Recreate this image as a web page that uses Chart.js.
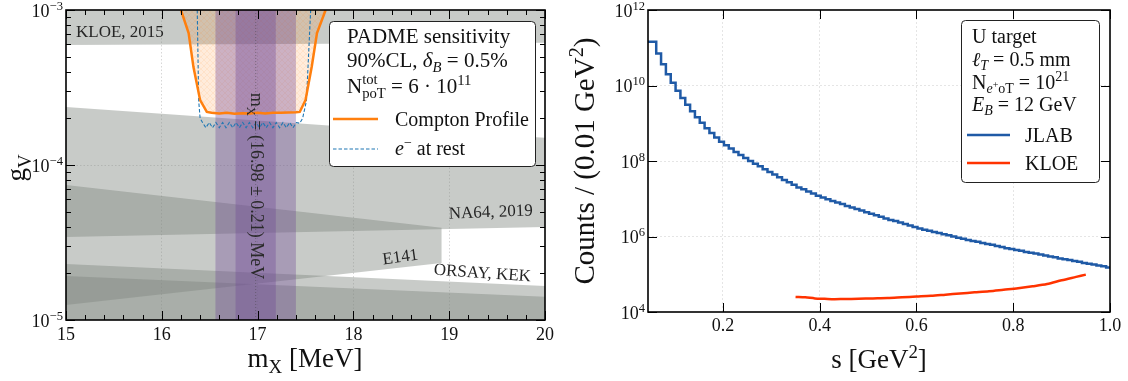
<!DOCTYPE html>
<html><head><meta charset="utf-8">
<script src="https://cdn.jsdelivr.net/npm/chart.js@4.4.1/dist/chart.umd.min.js"></script>
<style>
html,body{margin:0;padding:0;background:#fff;}
#wrap{position:relative;width:1128px;height:381px;overflow:hidden;}
#cl{position:absolute;left:0;top:0;}
#cr{position:absolute;left:560px;top:0;}
</style></head><body>
<div id="wrap"><canvas id="cl" width="560" height="381"></canvas><canvas id="cr" width="568" height="381"></canvas></div>
<script>
/* left panel: g_V vs m_X exclusion plot, right panel: counts vs s */

// ---- left: excluded regions (mX [MeV], gV)
const kloeX=[15,20,20,15,15];
const kloeG=[1e-3,1e-3,6.15e-4,5.95e-4,1e-3];
const na64X=[15,17.74,20,20,15,15];
const na64G=[2.37e-4,1.8e-4,1.5e-4,3.98e-5,3.43e-5,2.37e-4];
const e141X=[15,18.92,18.92,15,15];
const e141G=[7.43e-5,3.93e-5,2.33e-5,1.25e-5,7.43e-5];
const orsayX=[15,20,20,15,15];
const orsayG=[2.3e-5,1.66e-5,1e-5,1e-5,2.3e-5];
const kekX=[15,20,20,15,15];
const kekG=[1.92e-5,1.41e-5,1e-5,1e-5,1.92e-5];

// ---- PADME sensitivity curves
const comptonX=[16.20,16.28,16.33,16.40,16.47,16.52,16.60,16.68,16.76,16.84,16.92,17.00,17.08,17.16,17.24,17.32,17.40,17.44,17.50,17.565,17.62,17.71];
const comptonG=[1e-3,7.1e-4,4.3e-4,2.62e-4,2.2e-4,2.17e-4,2.15e-4,2.17e-4,2.14e-4,2.16e-4,2.15e-4,2.17e-4,2.15e-4,2.17e-4,2.17e-4,2.18e-4,2.19e-4,2.2e-4,2.62e-4,4.3e-4,7.1e-4,1e-3];
const eRestX=[16.37,16.385,16.40,16.43,16.46,16.495,16.53,16.565,16.60,16.635,16.67,16.705,16.74,16.775,16.81,16.845,16.88,16.915,16.95,16.985,17.02,17.055,17.09,17.125,17.16,17.195,17.23,17.265,17.30,17.335,17.37,17.405,17.44,17.47,17.51,17.554];
const eRestG=[1e-3,2.6e-4,2.0e-4,1.86e-4,1.74e-4,1.88e-4,1.74e-4,1.88e-4,1.74e-4,1.88e-4,1.74e-4,1.88e-4,1.74e-4,1.88e-4,1.74e-4,1.88e-4,1.74e-4,1.88e-4,1.74e-4,1.88e-4,1.74e-4,1.88e-4,1.74e-4,1.88e-4,1.74e-4,1.88e-4,1.74e-4,1.88e-4,1.74e-4,1.88e-4,1.74e-4,1.88e-4,1.86e-4,2.0e-4,2.6e-4,1e-3];

// ---- X17 mass band: 16.98 +- 0.21 (inner), +- 0.42 (outer)
const mX=16.98;
const bandOuterX=[16.56,17.40,17.40,16.56,16.56];
const bandInnerX=[16.77,17.19,17.19,16.77,16.77];
const bandG=[1e-3,1e-3,1e-5,1e-5,1e-3];

// ---- left axes
const lxMajor=[15,16,17,18,19,20];
const lxLabels=['15','16','17','18','19','20'];
const lyMajor=[1e-5,1e-4,1e-3];
const lyExp=['−5','−4','−3'];

// ---- right: JLAB histogram (bin width 0.01 GeV^2), log10(counts)
const sMin=0.045, jlabFirstEdge=0.062, jlabBinW=0.01;
const jlabLog=[11.16,10.85,10.56,10.30,10.07,9.86,9.67,9.49,9.32,9.16,9.01,8.87,8.74,8.62,8.51,
  8.42,8.33,8.24,8.16,8.08, 8.00,7.93,7.86,7.78,7.71, 7.64,7.57,7.50,7.44,7.37, 7.30,7.25,7.19,7.14,7.08,
  7.03,6.99,6.94,6.90,6.86,6.81,6.77,6.73,6.69,6.64,
  6.60,6.56,6.52,6.48,6.44,6.41,6.37,6.33,6.29,6.25,
  6.21,6.18,6.15,6.12,6.09,6.06,6.03,6.00,5.97,5.94,
  5.91,5.88,5.86,5.83,5.80,5.78,5.75,5.72,5.69,5.67,
  5.64,5.62,5.59,5.57,5.55,5.52,5.50,5.47,5.45,5.42,
  5.40,5.38,5.35,5.33,5.30,5.28,5.26,5.23,5.21,5.18];
// ---- KLOE curve
const kloeS=[0.35,0.37,0.39,0.41,0.43,0.45,0.48,0.51,0.54,0.57,0.60,0.63,0.66,0.69,0.72,0.75,0.78,0.81,0.84,0.87,0.90,0.93,0.95];
const kloeLog=[4.40,4.39,4.36,4.35,4.34,4.345,4.35,4.36,4.37,4.39,4.41,4.43,4.46,4.49,4.52,4.55,4.59,4.63,4.68,4.74,4.84,4.93,4.99];
const rxMajor=[0.2,0.4,0.6,0.8,1.0];
const rxLabels=['0.2','0.4','0.6','0.8','1.0'];
const ryMajor=[1e4,1e6,1e8,1e10,1e12];
const ryExp=['4','6','8','10','12'];

const SERIF='"Liberation Serif","DejaVu Serif",serif';
const GRAY='rgba(128,134,128,0.43)', PURPLE='rgba(110,70,150,0.35)';
const TXT='#262626';

// size factor, y offset (x font size), italic
const KIND={'':[1,0,0],'i':[1,0,1],'^':[.7,-.38,0],'_':[.7,.22,0],'i_':[.7,.22,1],'_^':[.5,-.05,0]};
function drawRich(ctx,parts,x,y,sz,align){
  const segs=parts.map(([t,k])=>{
    if(k==='st'){
      const f=(.7*sz)+'px '+SERIF; ctx.font=f;
      return {st:t,f,w:Math.max(ctx.measureText(t[0]).width,ctx.measureText(t[1]).width)};
    }
    const [s,dy,it]=KIND[k], f=(it?'italic ':'')+(s*sz)+'px '+SERIF;
    ctx.font=f; return {t,f,w:ctx.measureText(t).width,dy:dy*sz};
  });
  const W=segs.reduce((a,s)=>a+s.w,0);
  let cx=align==='center'?x-W/2:align==='right'?x-W:x;
  ctx.textAlign='left'; ctx.textBaseline='alphabetic';
  segs.forEach(s=>{
    ctx.font=s.f;
    if(s.st){ ctx.fillText(s.st[0],cx,y-.42*sz); ctx.fillText(s.st[1],cx,y+.25*sz); }
    else ctx.fillText(s.t,cx,y+s.dy);
    cx+=s.w;
  });
}
function rotText(ctx,parts,x,y,a,sz,col){
  ctx.save(); ctx.translate(x,y); ctx.rotate(a); ctx.fillStyle=col||TXT;
  drawRich(ctx,parts,0,0,sz,'center'); ctx.restore();
}
function frameTicks(chart,xt,yt){
  const {ctx,chartArea:a,scales:{x,y}}=chart;
  ctx.save(); ctx.strokeStyle='#000'; ctx.lineWidth=1; ctx.beginPath();
  xt.forEach(([v,l])=>{const p=Math.round(x.getPixelForValue(v))+.5;
    ctx.moveTo(p,a.bottom); ctx.lineTo(p,a.bottom-l); ctx.moveTo(p,a.top); ctx.lineTo(p,a.top+l);});
  yt.forEach(([v,l])=>{const p=Math.round(y.getPixelForValue(v))+.5;
    ctx.moveTo(a.left,p); ctx.lineTo(a.left+l,p); ctx.moveTo(a.right,p); ctx.lineTo(a.right-l,p);});
  ctx.stroke();
  ctx.lineWidth=1.6; ctx.strokeRect(a.left,a.top,a.right-a.left,a.bottom-a.top);
  ctx.restore();
}
function legendBox(ctx,x,y,w,h){
  ctx.save(); ctx.fillStyle='#fff'; ctx.strokeStyle='#222'; ctx.lineWidth=1;
  ctx.beginPath(); ctx.roundRect(x,y,w,h,4); ctx.fill(); ctx.stroke(); ctx.restore();
}
function seg(ctx,x0,x1,y,col,lw,dash){
  ctx.save(); ctx.strokeStyle=col; ctx.lineWidth=lw; ctx.setLineDash(dash||[]);
  ctx.beginPath(); ctx.moveTo(x0,y); ctx.lineTo(x1,y); ctx.stroke(); ctx.restore();
}
const pts=(xs,ys)=>xs.map((v,i)=>({x:v,y:ys[i]}));
function poly(xs,ys,col,order){
  return {data:pts(xs,ys),showLine:true,fill:'shape',backgroundColor:col,borderWidth:0,
    borderColor:'transparent',pointRadius:0,tension:0,order};
}
function fixedTicks(vals){ return s=>{ s.ticks=vals.map(v=>({value:v})); }; }

// soft cross-hatch for the sensitivity region
const hc=document.createElement('canvas'); hc.width=hc.height=6;
const hx=hc.getContext('2d');
hx.fillStyle='rgba(255,140,50,0.17)'; hx.fillRect(0,0,6,6);
hx.strokeStyle='rgba(255,127,14,0.16)'; hx.lineWidth=0.6;
hx.beginPath(); hx.moveTo(0,0); hx.lineTo(6,6); hx.moveTo(6,0); hx.lineTo(0,6); hx.stroke();
const hatch=hx.createPattern(hc,'repeat');

const base={responsive:false,animation:false,events:[],
  plugins:{legend:{display:false},tooltip:{enabled:false}}};

// ================= left chart
const lxTicks=[], lyTicks=[];
lxMajor.forEach(v=>lxTicks.push([v,9]));
for(let v=15.2;v<20;v+=0.2) if(Math.abs(v-Math.round(v))>1e-6) lxTicks.push([v,5]);
lyMajor.forEach(v=>lyTicks.push([v,9]));
[1e-5,1e-4].forEach(d=>{for(let k=2;k<10;k++) lyTicks.push([k*d,5]);});

const leftDeco={id:'leftDeco',afterDraw(chart){
  const {ctx,scales:{x,y}}=chart;
  frameTicks(chart,lxTicks,lyTicks);
  ctx.save(); ctx.fillStyle='#111';
  lxMajor.forEach((v,i)=>drawRich(ctx,[[lxLabels[i],'']],x.getPixelForValue(v),340,18,'center'));
  lyMajor.forEach((v,i)=>drawRich(ctx,[['10',''],[lyExp[i],'^']],63,y.getPixelForValue(v)+6.5,18,'right'));
  drawRich(ctx,[['m',''],['X','_'],[' [MeV]','']],305,367,27,'center');
  ctx.restore();
  rotText(ctx,[['g',''],['V','_']],25,168,-Math.PI/2,27,'#111');
  // region names
  ctx.save(); ctx.fillStyle=TXT;
  drawRich(ctx,[['KLOE, 2015','']],76,37,17,'left'); ctx.restore();
  rotText(ctx,[['NA64, 2019','']],491,217,-0.04,17);
  rotText(ctx,[['E141','']],401,262,-0.14,17);
  rotText(ctx,[['ORSAY, KEK','']],482,278,0.07,17);
  rotText(ctx,[['m',''],['X','_'],[' = (16.98 ± 0.21) MeV','']],251,186,Math.PI/2,18,'#2a2a2a');
  // legend
  legendBox(ctx,329.5,21.5,206,145);
  ctx.save(); ctx.fillStyle='#111';
  drawRich(ctx,[['PADME sensitivity','']],347,43,21,'left');
  drawRich(ctx,[['90%CL, ',''],['δ','i'],['B','i_'],[' = 0.5%','']],347,67,21,'left');
  drawRich(ctx,[['N',''],[['tot','poT'],'st'],[' = 6 · 10',''],['11','^']],347,93,21,'left');
  seg(ctx,333,378,119,'#ff7f0e',2.5);
  drawRich(ctx,[['Compton Profile','']],395,126,20,'left');
  seg(ctx,333,378,149,'#1f77b4',1.1,[3.5,2]);
  drawRich(ctx,[['e','i'],['−','^'],[' at rest','']],395,155,20,'left');
  ctx.restore();
}};

new Chart(document.getElementById('cl'),{type:'scatter',
  data:{datasets:[
    {data:pts(comptonX,comptonG),showLine:true,borderColor:'#ff7f0e',borderWidth:2.5,pointRadius:0,tension:0,fill:false,order:0},
    {data:pts(eRestX,eRestG),showLine:true,borderColor:'#1f77b4',borderWidth:1.1,borderDash:[3.5,2],pointRadius:0,tension:0,fill:false,order:0},
    {data:pts([mX,mX],[1e-5,1e-3]),showLine:true,borderColor:'rgba(60,60,60,0.55)',borderWidth:0.8,borderDash:[1,2],pointRadius:0,fill:false,order:1},
    poly(bandOuterX,bandG,PURPLE,2),
    poly(bandInnerX,bandG,PURPLE,2),
    poly(comptonX,comptonG,hatch,3),
    poly(kloeX,kloeG,GRAY,4),
    poly(na64X,na64G,GRAY,4),
    poly(e141X,e141G,GRAY,4),
    poly(orsayX,orsayG,GRAY,4),
    poly(kekX,kekG,GRAY,4),
  ]},
  options:{...base,layout:{padding:{left:0,top:10,right:15,bottom:0}},
    scales:{
      x:{type:'linear',min:15,max:20,z:1,afterBuildTicks:fixedTicks([16,17,18,19]),afterFit:s=>{s.height=61;},
        ticks:{display:false},grid:{color:'rgba(0,0,0,0.2)',lineWidth:0.8,drawTicks:false},border:{display:false,dash:[1.5,2]}},
      y:{type:'logarithmic',min:1e-5,max:1e-3,z:1,afterBuildTicks:fixedTicks([1e-4]),afterFit:s=>{s.width=66;},
        ticks:{display:false},grid:{color:'rgba(0,0,0,0.2)',lineWidth:0.8,drawTicks:false},border:{display:false,dash:[1.5,2]}}
    }},
  plugins:[leftDeco]});

// ================= right chart
const jlabPts=jlabLog.map((v,i)=>({x:i===0?sMin:jlabFirstEdge+(i-1)*jlabBinW,y:Math.pow(10,v)}));
jlabPts.push({x:1.0,y:Math.pow(10,jlabLog[jlabLog.length-1])});
const kloePts=kloeS.map((s,i)=>({x:s,y:Math.pow(10,kloeLog[i])}));

const rightDeco={id:'rightDeco',afterDraw(chart){
  const {ctx,scales:{x,y}}=chart;
  frameTicks(chart,rxMajor.map(v=>[v,9]),ryMajor.map(v=>[v,9]));
  ctx.save(); ctx.fillStyle='#111';
  rxMajor.forEach((v,i)=>drawRich(ctx,[[rxLabels[i],'']],x.getPixelForValue(v),331,18,'center'));
  ryMajor.forEach((v,i)=>drawRich(ctx,[['10',''],[ryExp[i],'^']],85,y.getPixelForValue(v)+6.5,18,'right'));
  drawRich(ctx,[['s [GeV',''],['2','^'],[']','']],319,368,27,'center');
  ctx.restore();
  rotText(ctx,[['Counts / (0.01 GeV',''],['2','^'],[')','']],34,161,-Math.PI/2,29,'#111');
  legendBox(ctx,401.5,20.5,138,162);
  ctx.save(); ctx.fillStyle='#111';
  drawRich(ctx,[['U target','']],412,43,20,'left');
  drawRich(ctx,[['ℓ','i'],['T','i_'],[' = 0.5 mm','']],412,66,20,'left');
  drawRich(ctx,[['N',''],['e','i_'],['+','_^'],['oT','_'],[' = 10',''],['21','^']],412,89,20,'left');
  drawRich(ctx,[['E','i'],['B','i_'],[' = 12 GeV','']],412,111,20,'left');
  seg(ctx,407,450,135,'#1f5aa6',2.5);
  drawRich(ctx,[['JLAB','']],465,142,20,'left');
  seg(ctx,407,450,163,'#ff3300',2.5);
  drawRich(ctx,[['KLOE','']],465,170,20,'left');
  ctx.restore();
}};

new Chart(document.getElementById('cr'),{type:'scatter',
  data:{datasets:[
    {data:jlabPts,showLine:true,stepped:true,borderColor:'#1f5aa6',borderWidth:2.5,pointRadius:0,fill:false},
    {data:kloePts,showLine:true,borderColor:'#ff3300',borderWidth:2.5,pointRadius:0,tension:0.3,fill:false},
  ]},
  options:{...base,layout:{padding:{left:0,top:10,right:18,bottom:0}},
    scales:{
      x:{type:'linear',min:sMin,max:1.0,afterBuildTicks:fixedTicks([0.2,0.4,0.6,0.8]),afterFit:s=>{s.height=69;},
        ticks:{display:false},grid:{color:'rgba(0,0,0,0.13)',lineWidth:0.8,drawTicks:false},border:{display:false,dash:[2,2]}},
      y:{type:'logarithmic',min:1e4,max:1e12,afterBuildTicks:fixedTicks([1e6,1e8,1e10]),afterFit:s=>{s.width=88;},
        ticks:{display:false},grid:{color:'rgba(0,0,0,0.13)',lineWidth:0.8,drawTicks:false},border:{display:false,dash:[2,2]}}
    }},
  plugins:[rightDeco]});
</script>
</body></html>
